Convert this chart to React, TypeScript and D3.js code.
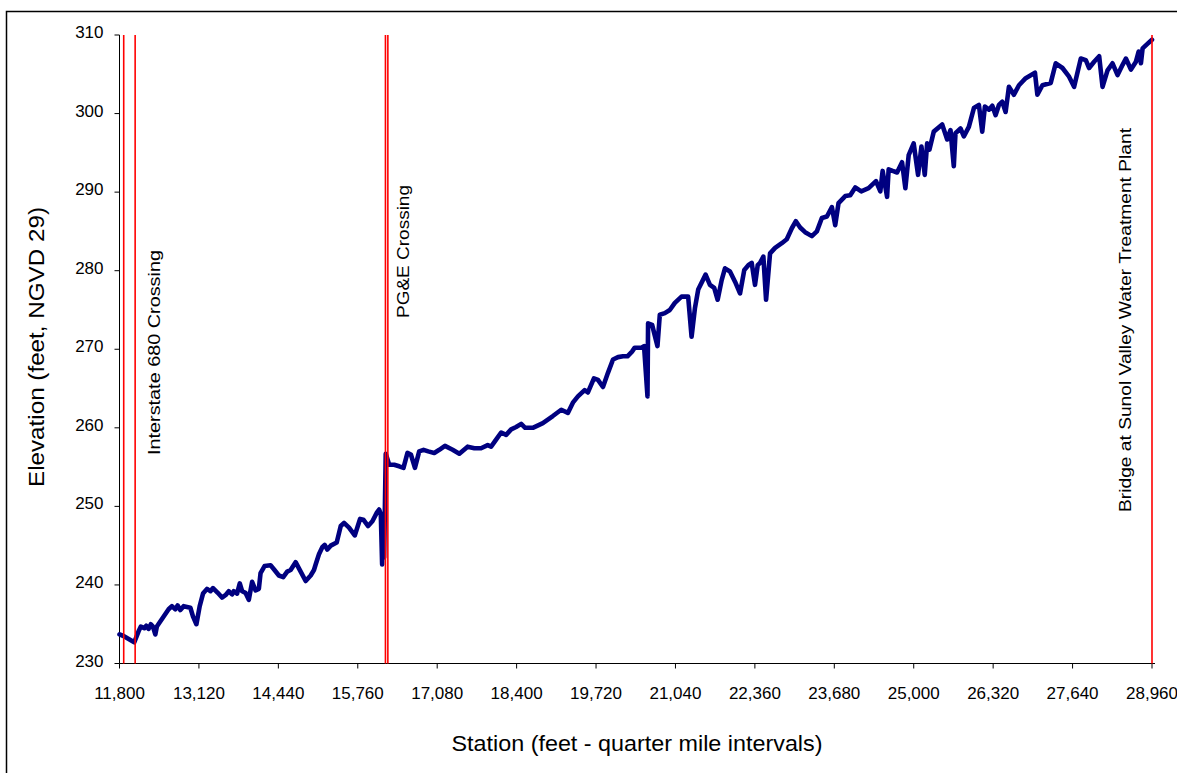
import React from "react";
import * as d3 from "d3";

const stations = [
  11800, 11867, 12045, 12117, 12155, 12212, 12245, 12283, 12321, 12355, 12395, 12421,
  12616, 12671, 12728, 12766, 12811, 12866, 12978, 13021, 13078, 13133, 13188, 13254,
  13311, 13354, 13433, 13504, 13561, 13616, 13671, 13699, 13754, 13799, 13838, 13894,
  13949, 14004, 14061, 14116, 14144, 14211, 14311, 14366, 14449, 14521, 14587, 14644,
  14727, 14811, 14894, 14977, 15032, 15060, 15115, 15170, 15210, 15254, 15310, 15410,
  15477, 15532, 15615, 15710, 15798, 15853, 15932, 16003, 16077, 16115, 16143, 16165,
  16182, 16198, 16225, 16282, 16365, 16448, 16520, 16586, 16643, 16710, 16781, 16853,
  16931, 17031, 17115, 17209, 17336, 17448, 17586, 17698, 17809, 17919, 17976, 18059,
  18143, 18226, 18309, 18392, 18476, 18542, 18669, 18836, 19002, 19142, 19252, 19335,
  19419, 19530, 19585, 19685, 19752, 19835, 19918, 20002, 20085, 20168, 20242, 20318,
  20363, 20475, 20518, 20575, 20585, 20652, 20741, 20780, 20863, 20946, 21030, 21141,
  21251, 21308, 21363, 21418, 21541, 21613, 21684, 21741, 21808, 21863, 21946, 22030,
  22113, 22184, 22251, 22307, 22362, 22407, 22446, 22501, 22546, 22612, 22696, 22807,
  22890, 22974, 23041, 23112, 23195, 23307, 23390, 23473, 23557, 23640, 23695, 23750,
  23862, 23945, 24028, 24128, 24250, 24373, 24445, 24483, 24557, 24583, 24650, 24723,
  24806, 24861, 24916, 24999, 25072, 25128, 25183, 25223, 25261, 25333, 25473, 25556,
  25611, 25666, 25694, 25778, 25833, 25916, 26000, 26083, 26139, 26183, 26250, 26306,
  26361, 26416, 26472, 26527, 26582, 26665, 26749, 26861, 27015, 27055, 27139, 27277,
  27360, 27472, 27582, 27665, 27777, 27860, 27915, 27998, 28082, 28138, 28221, 28304,
  28388, 28471, 28526, 28610, 28693, 28738, 28776, 28804, 28888, 28960,
];

const elevations = [
  233.7, 233.5, 232.7, 234.1, 234.7, 234.5, 234.8, 234.4, 235.0, 234.7, 233.7, 234.7,
  236.9, 237.3, 236.9, 237.4, 236.8, 237.3, 237.1, 236.0, 235.0, 237.3, 238.9, 239.5,
  239.2, 239.6, 239.0, 238.4, 238.7, 239.2, 238.8, 239.2, 238.9, 240.2, 239.2, 239.0,
  238.1, 240.4, 239.3, 239.5, 241.5, 242.4, 242.5, 242.0, 241.2, 241.0, 241.7, 241.9,
  242.9, 241.7, 240.5, 241.2, 241.9, 242.6, 243.9, 244.8, 245.1, 244.5, 245.0, 245.4,
  247.5, 247.9, 247.3, 246.3, 248.4, 248.3, 247.5, 248.1, 249.2, 249.6, 249.0, 242.6,
  249.0, 243.5, 256.7, 255.3, 255.3, 255.1, 254.9, 256.8, 256.6, 254.9, 257.0, 257.2,
  257.0, 256.8, 257.2, 257.7, 257.2, 256.7, 257.6, 257.4, 257.4, 257.8, 257.6, 258.5,
  259.4, 259.1, 259.8, 260.1, 260.5, 260.0, 260.0, 260.6, 261.5, 262.3, 261.9, 263.2,
  264.0, 264.8, 264.5, 266.3, 266.1, 265.2, 267.0, 268.7, 269.0, 269.1, 269.1, 269.7,
  270.2, 270.2, 270.4, 264.0, 273.3, 273.1, 270.4, 274.4, 274.6, 275.0, 275.9, 276.7,
  276.7, 271.6, 275.2, 277.6, 279.5, 278.2, 277.8, 276.3, 278.8, 280.3, 279.9, 278.6,
  277.1, 280.1, 280.7, 281.0, 278.2, 280.7, 281.0, 281.8, 276.3, 282.2, 282.9, 283.5,
  284.0, 285.4, 286.3, 285.5, 284.9, 284.4, 285.0, 286.7, 286.9, 288.1, 285.8, 288.6,
  289.5, 289.6, 290.6, 290.1, 290.5, 291.4, 290.1, 292.7, 289.4, 292.9, 292.7, 292.5,
  293.8, 290.5, 294.7, 296.2, 292.2, 295.8, 292.2, 296.2, 295.4, 297.7, 298.6, 296.7,
  297.9, 293.3, 297.5, 298.1, 297.1, 298.3, 300.7, 301.1, 297.7, 300.9, 300.5, 301.0,
  299.8, 301.1, 301.5, 300.2, 303.4, 302.4, 303.6, 304.5, 305.2, 302.4, 303.6, 303.9,
  306.4, 305.8, 304.7, 303.4, 307.0, 306.8, 305.8, 306.6, 307.3, 303.4, 305.5, 306.4,
  304.9, 306.2, 307.0, 305.6, 306.6, 307.9, 306.4, 308.3, 308.9, 309.4,
];

const crossingStations = [11870, 12060, 16220, 16260, 28960];

const annotationLabels = [
  "Interstate 680 Crossing",
  "PG&E Crossing",
  "Bridge at Sunol Valley Water Treatment Plant",
];

const yTicks = [230, 240, 250, 260, 270, 280, 290, 300, 310];
const xTicks = [11800, 13120, 14440, 15760, 17080, 18400, 19720, 21040, 22360, 23680, 25000, 26320, 27640, 28960];

const xTitle = "Station (feet - quarter mile intervals)";
const yTitle = "Elevation (feet, NGVD 29)";

export default function App() {
  const W = 1177;
  const H = 773;
  const left = 119.5;
  const right = 1152;
  const top = 35;
  const bottom = 663.5;

  const x = d3.scaleLinear().domain([11800, 28960]).range([left, right]);
  const y = d3.scaleLinear().domain([230, 310]).range([bottom, top]);
  const fmt = d3.format(",");

  const pts: [number, number][] = stations.map((s, i) => [s, elevations[i]]);
  const line = d3
    .line<[number, number]>()
    .x((d) => x(d[0]))
    .y((d) => y(d[1]));

  const font = "'Liberation Sans', Arial, sans-serif";

  const annPos = [
    { xb: 160, y0: 455, len: 205 },
    { xb: 409, y0: 318, len: 133 },
    { xb: 1131, y0: 512, len: 384 },
  ];

  return (
    <svg
      width={W}
      height={H}
      style={{ position: "absolute", left: 0, top: 0, background: "#fff" }}
      fontFamily={font}
    >
      <rect x={0} y={0} width={W} height={H} fill="#fff" />
      <rect x={6.5} y={11.5} width={W + 50} height={H + 50} fill="none" stroke="#000" strokeWidth={1.5} />

      <line x1={left} x2={left} y1={top} y2={bottom} stroke="#000" strokeWidth={1} />
      <line x1={left} x2={right + 3} y1={bottom} y2={bottom} stroke="#000" strokeWidth={1} />

      {yTicks.map((t) => (
        <g key={"y" + t}>
          <line x1={left - 5} x2={left} y1={y(t)} y2={y(t)} stroke="#000" />
          <text x={103.5} y={y(t) + 3} textAnchor="end" fontSize={17} fill="#000">
            {t}
          </text>
        </g>
      ))}

      {xTicks.map((t) => (
        <g key={"x" + t}>
          <line x1={x(t)} x2={x(t)} y1={bottom} y2={bottom + 5} stroke="#000" />
          <text x={x(t)} y={699} textAnchor="middle" fontSize={17} fill="#000">
            {fmt(t)}
          </text>
        </g>
      ))}

      <path
        d={line(pts) || ""}
        fill="none"
        stroke="#000080"
        strokeWidth={4.6}
        strokeLinejoin="round"
        strokeLinecap="round"
      />

      {crossingStations.map((s, i) => (
        <line
          key={"c" + i}
          x1={x(s)}
          x2={x(s)}
          y1={top}
          y2={bottom}
          stroke="#FF0000"
          strokeWidth={1.6}
        />
      ))}

      {annotationLabels.map((lab, i) => (
        <text
          key={"a" + i}
          transform={`translate(${annPos[i].xb},${annPos[i].y0}) rotate(-90)`}
          fontSize={17}
          fill="#000"
          textLength={annPos[i].len}
          lengthAdjust="spacingAndGlyphs"
        >
          {lab}
        </text>
      ))}

      <text
        transform={`translate(44,347) rotate(-90)`}
        textAnchor="middle"
        fontSize={22}
        fill="#000"
        textLength={280}
        lengthAdjust="spacingAndGlyphs"
      >
        {yTitle}
      </text>
      <text
        x={637}
        y={751}
        textAnchor="middle"
        fontSize={22}
        fill="#000"
        textLength={371}
        lengthAdjust="spacingAndGlyphs"
      >
        {xTitle}
      </text>
    </svg>
  );
}
